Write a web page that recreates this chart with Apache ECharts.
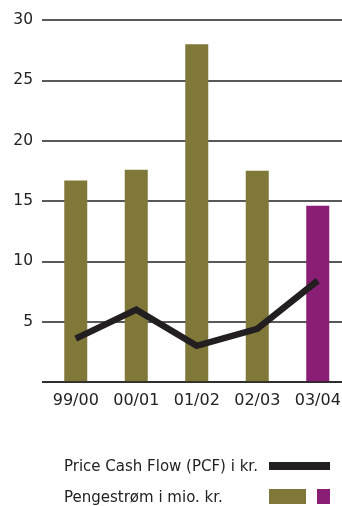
<!DOCTYPE html>
<html>
<head>
<meta charset="utf-8">
<script src="https://cdn.jsdelivr.net/npm/echarts@6/dist/echarts.min.js"></script>
<style>
  html, body { margin: 0; padding: 0; background: #fff; }
  #chart { width: 342px; height: 506px; }
</style>
</head>
<body>
<div id="chart"></div>
<script>
// Fiscal years on the category axis
const years = ['99/00', '00/01', '01/02', '02/03', '03/04'];
// Cash flow in millions of DKK (bars)
const cashFlow = [16.7, 17.6, 28.0, 17.5, 14.6];
// Price Cash Flow ratio (line)
const pcf = [3.6, 6.0, 3.0, 4.4, 8.4];
// Value axis ticks
const yTicks = [0, 5, 10, 15, 20, 25, 30];

const lineLabel = 'Price Cash Flow (PCF) i kr.';
const barLabel = 'Pengestrøm i mio. kr.';

const OLIVE = '#807838';
const PURPLE = '#891e74';
const INK = '#231f20';
const FONT = 'DejaVu Sans';

const chart = echarts.init(document.getElementById('chart'), null, { renderer: 'canvas' });

const yMax = yTicks[yTicks.length - 1];
const yStep = yTicks[1] - yTicks[0];

chart.setOption({
  animation: false,
  textStyle: { fontFamily: FONT },
  grid: [
    // frame with the value axis and its grid lines
    { left: 42, right: 0, top: 20, height: 362, outerBoundsMode: 'none', containLabel: false },
    // data area, offset slightly to the right
    { left: 45.5, width: 302.5, top: 20, height: 362, outerBoundsMode: 'none', containLabel: false }
  ],
  xAxis: [
    {
      gridIndex: 0, type: 'category', data: years,
      axisLine: { show: false }, axisTick: { show: false }, axisLabel: { show: false }
    },
    {
      gridIndex: 1, type: 'category', data: years,
      axisLine: { show: false }, axisTick: { show: false },
      axisLabel: { color: '#222', fontSize: 16, fontFamily: FONT, margin: 11, interval: 0, hideOverlap: false }
    }
  ],
  yAxis: [
    {
      gridIndex: 0, type: 'value', min: 0, max: yMax, interval: yStep,
      axisLine: { show: false }, axisTick: { show: false },
      axisLabel: { color: '#222', fontSize: 15.5, fontFamily: FONT, margin: 9, showMinLabel: false },
      splitLine: { show: true, lineStyle: { color: '#222', width: 1.5 } }
    },
    {
      gridIndex: 1, type: 'value', min: 0, max: yMax, interval: yStep,
      axisLine: { show: false }, axisTick: { show: false },
      axisLabel: { show: false }, splitLine: { show: false }
    }
  ],
  series: [
    {
      name: barLabel, type: 'bar', xAxisIndex: 1, yAxisIndex: 1,
      barWidth: 23,
      data: cashFlow.map((v, i) => ({
        value: v,
        itemStyle: { color: i === cashFlow.length - 1 ? PURPLE : OLIVE }
      })),
      z: 2
    },
    {
      name: lineLabel, type: 'line', xAxisIndex: 1, yAxisIndex: 1,
      data: pcf, symbol: 'none',
      lineStyle: { color: INK, width: 6.5, join: 'miter' },
      z: 3
    }
  ],
  graphic: [
    // bottom axis line drawn above bars
    { type: 'line', shape: { x1: 42, y1: 382, x2: 342, y2: 382 }, style: { stroke: '#222', lineWidth: 1.5 }, z: 10 },
    // legend
    { type: 'text', left: 64, top: 460, style: { text: lineLabel, fill: '#222', font: '15px ' + FONT } },
    { type: 'rect', shape: { x: 269, y: 462, width: 61, height: 8 }, style: { fill: INK } },
    { type: 'text', left: 64, top: 491, style: { text: barLabel, fill: '#222', font: '15px ' + FONT } },
    { type: 'rect', shape: { x: 269, y: 489, width: 37, height: 15 }, style: { fill: OLIVE } },
    { type: 'rect', shape: { x: 317, y: 489, width: 13, height: 15 }, style: { fill: PURPLE } }
  ]
});
</script>
</body>
</html>
